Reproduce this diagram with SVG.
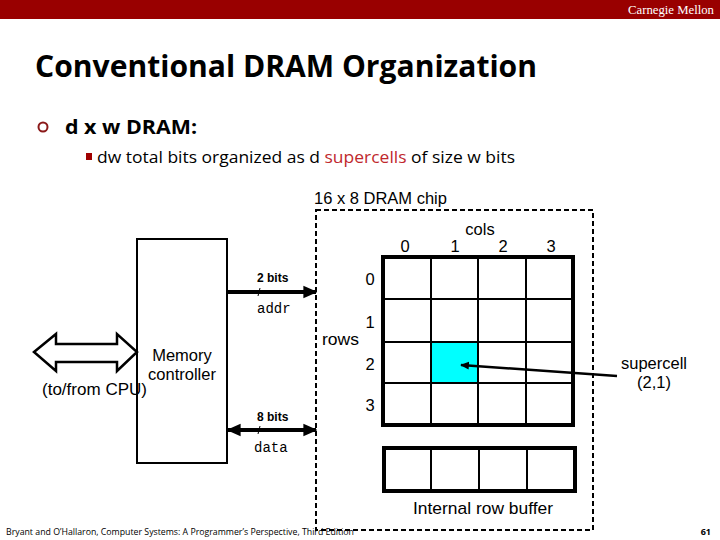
<svg xmlns="http://www.w3.org/2000/svg" width="720" height="540" viewBox="0 0 720 540">
<defs>
<style>
.a{font-family:"Liberation Sans",Arial,sans-serif;fill:#000}
.c{font-family:"Open Sans","Liberation Sans",sans-serif}
.m{font-family:"Liberation Mono","Courier New",monospace;fill:#000}
.thin{stroke:#000;stroke-width:2;fill:none}
.cell{stroke:#000;stroke-width:2;fill:none}
</style>
<marker id="ah" viewBox="0 0 10 10" refX="9" refY="5" markerWidth="3.5" markerHeight="3.5" orient="auto-start-reverse" markerUnits="strokeWidth">
<path d="M0,0.5 L10,5 L0,9.5 z" fill="#000"/>
</marker>
<marker id="ah2" viewBox="0 0 10 10" refX="9" refY="5" markerWidth="3.5" markerHeight="3.5" orient="auto" markerUnits="strokeWidth">
<path d="M0,0.5 L10,5 L0,9.5 z" fill="#000"/>
</marker>
</defs>
<rect width="720" height="540" fill="#fff"/>
<rect x="0" y="0" width="720" height="19" fill="#990000"/>
<text x="714" y="14" text-anchor="end" font-family="Liberation Serif,serif" font-size="13" fill="#fff" textLength="86" lengthAdjust="spacingAndGlyphs">Carnegie Mellon</text>

<text x="35" y="77" class="c" font-size="30" font-weight="bold" fill="#000" textLength="502" lengthAdjust="spacingAndGlyphs">Conventional DRAM Organization</text>
<circle cx="43" cy="127" r="4.5" fill="none" stroke="#8b1a1a" stroke-width="2"/>
<text x="65" y="134" class="c" font-size="20" font-weight="bold" fill="#000" textLength="132" lengthAdjust="spacingAndGlyphs">d x w DRAM:</text>
<rect x="86" y="153" width="6" height="7" fill="#a00000"/>
<text x="97" y="163" class="c" font-size="17" fill="#000" textLength="418" lengthAdjust="spacingAndGlyphs">dw total bits organized as d <tspan fill="#c0282d">supercells</tspan> of size w bits</text>

<g id="chip">
<text x="314" y="204" class="a" font-size="16.5">16 x 8 DRAM chip</text>
<rect x="316" y="210" width="277" height="320" fill="none" stroke="#000" stroke-width="2" stroke-dasharray="5,3"/>
</g>

<g id="grid">
<rect x="431" y="342" width="47" height="41" fill="#00ffff"/>
<line x1="431" y1="256" x2="431" y2="425" class="cell"/>
<line x1="478" y1="256" x2="478" y2="425" class="cell"/>
<line x1="526" y1="256" x2="526" y2="425" class="cell"/>
<line x1="382" y1="299" x2="573" y2="299" class="cell"/>
<line x1="382" y1="342" x2="573" y2="342" class="cell"/>
<line x1="382" y1="383" x2="573" y2="383" class="cell"/>
<rect x="383" y="257" width="190" height="168" fill="none" stroke="#000" stroke-width="4"/>
<text x="480" y="235" class="a" font-size="16.5" text-anchor="middle">cols</text>
<text x="405" y="252" class="a" font-size="16.5" text-anchor="middle">0</text>
<text x="455" y="252" class="a" font-size="16.5" text-anchor="middle">1</text>
<text x="503" y="252" class="a" font-size="16.5" text-anchor="middle">2</text>
<text x="551" y="252" class="a" font-size="16.5" text-anchor="middle">3</text>
<text x="370" y="285" class="a" font-size="16.5" text-anchor="middle">0</text>
<text x="370" y="328" class="a" font-size="16.5" text-anchor="middle">1</text>
<text x="370" y="370" class="a" font-size="16.5" text-anchor="middle">2</text>
<text x="370" y="411" class="a" font-size="16.5" text-anchor="middle">3</text>
<text x="322" y="345" class="a" font-size="17" textLength="37" lengthAdjust="spacingAndGlyphs">rows</text>
</g>

<g id="rowbuffer">
<line x1="431" y1="448" x2="431" y2="491" class="cell"/>
<line x1="479" y1="448" x2="479" y2="491" class="cell"/>
<line x1="527" y1="448" x2="527" y2="491" class="cell"/>
<rect x="384" y="448" width="191" height="43" fill="none" stroke="#000" stroke-width="4"/>
<text x="413" y="514" class="a" font-size="17" textLength="140" lengthAdjust="spacingAndGlyphs">Internal row buffer</text>
</g>

<g id="controller">
<rect x="137" y="239" width="90" height="224" class="thin"/>
<text x="182" y="361" class="a" font-size="16.5" text-anchor="middle">Memory</text>
<text x="182" y="380" class="a" font-size="16.5" text-anchor="middle">controller</text>
<text x="42" y="395" class="a" font-size="16.5" textLength="105" lengthAdjust="spacingAndGlyphs">(to/from CPU)</text>
</g>

<g id="supercell">
<text x="654" y="369" class="a" font-size="16.5" text-anchor="middle">supercell</text>
<text x="654" y="388" class="a" font-size="16.5" text-anchor="middle">(2,1)</text>
</g>

<g id="connectors">
<path d="M34,352 L56,334 L56,344 L117,344 L117,334 L137,352 L117,371 L117,362 L56,362 L56,371 Z" fill="#fff" stroke="#000" stroke-width="2.5" stroke-linejoin="miter"/>
<line x1="227" y1="292" x2="316" y2="292" stroke="#000" stroke-width="4" marker-end="url(#ah2)"/>
<line x1="258" y1="296" x2="260" y2="288" stroke="#000" stroke-width="1"/>
<text x="257" y="282" class="a" font-size="12" font-weight="bold">2 bits</text>
<text x="257" y="313" class="m" font-size="14">addr</text>
<line x1="228" y1="430" x2="316" y2="430" stroke="#000" stroke-width="4" marker-start="url(#ah)" marker-end="url(#ah)"/>
<line x1="258" y1="434" x2="260" y2="426" stroke="#000" stroke-width="1"/>
<text x="257" y="421" class="a" font-size="12" font-weight="bold">8 bits</text>
<text x="254" y="452" class="m" font-size="14">data</text>
<line x1="617" y1="376" x2="461" y2="365" stroke="#000" stroke-width="2.5" marker-end="url(#ah2)"/>
</g>

<text x="6" y="535" class="c" font-size="9" fill="#000" textLength="348" lengthAdjust="spacingAndGlyphs">Bryant and O’Hallaron, Computer Systems: A Programmer’s Perspective, Third Edition</text>
<text x="711" y="535" class="c" font-size="9" font-weight="bold" text-anchor="end" fill="#000">61</text>
</svg>
